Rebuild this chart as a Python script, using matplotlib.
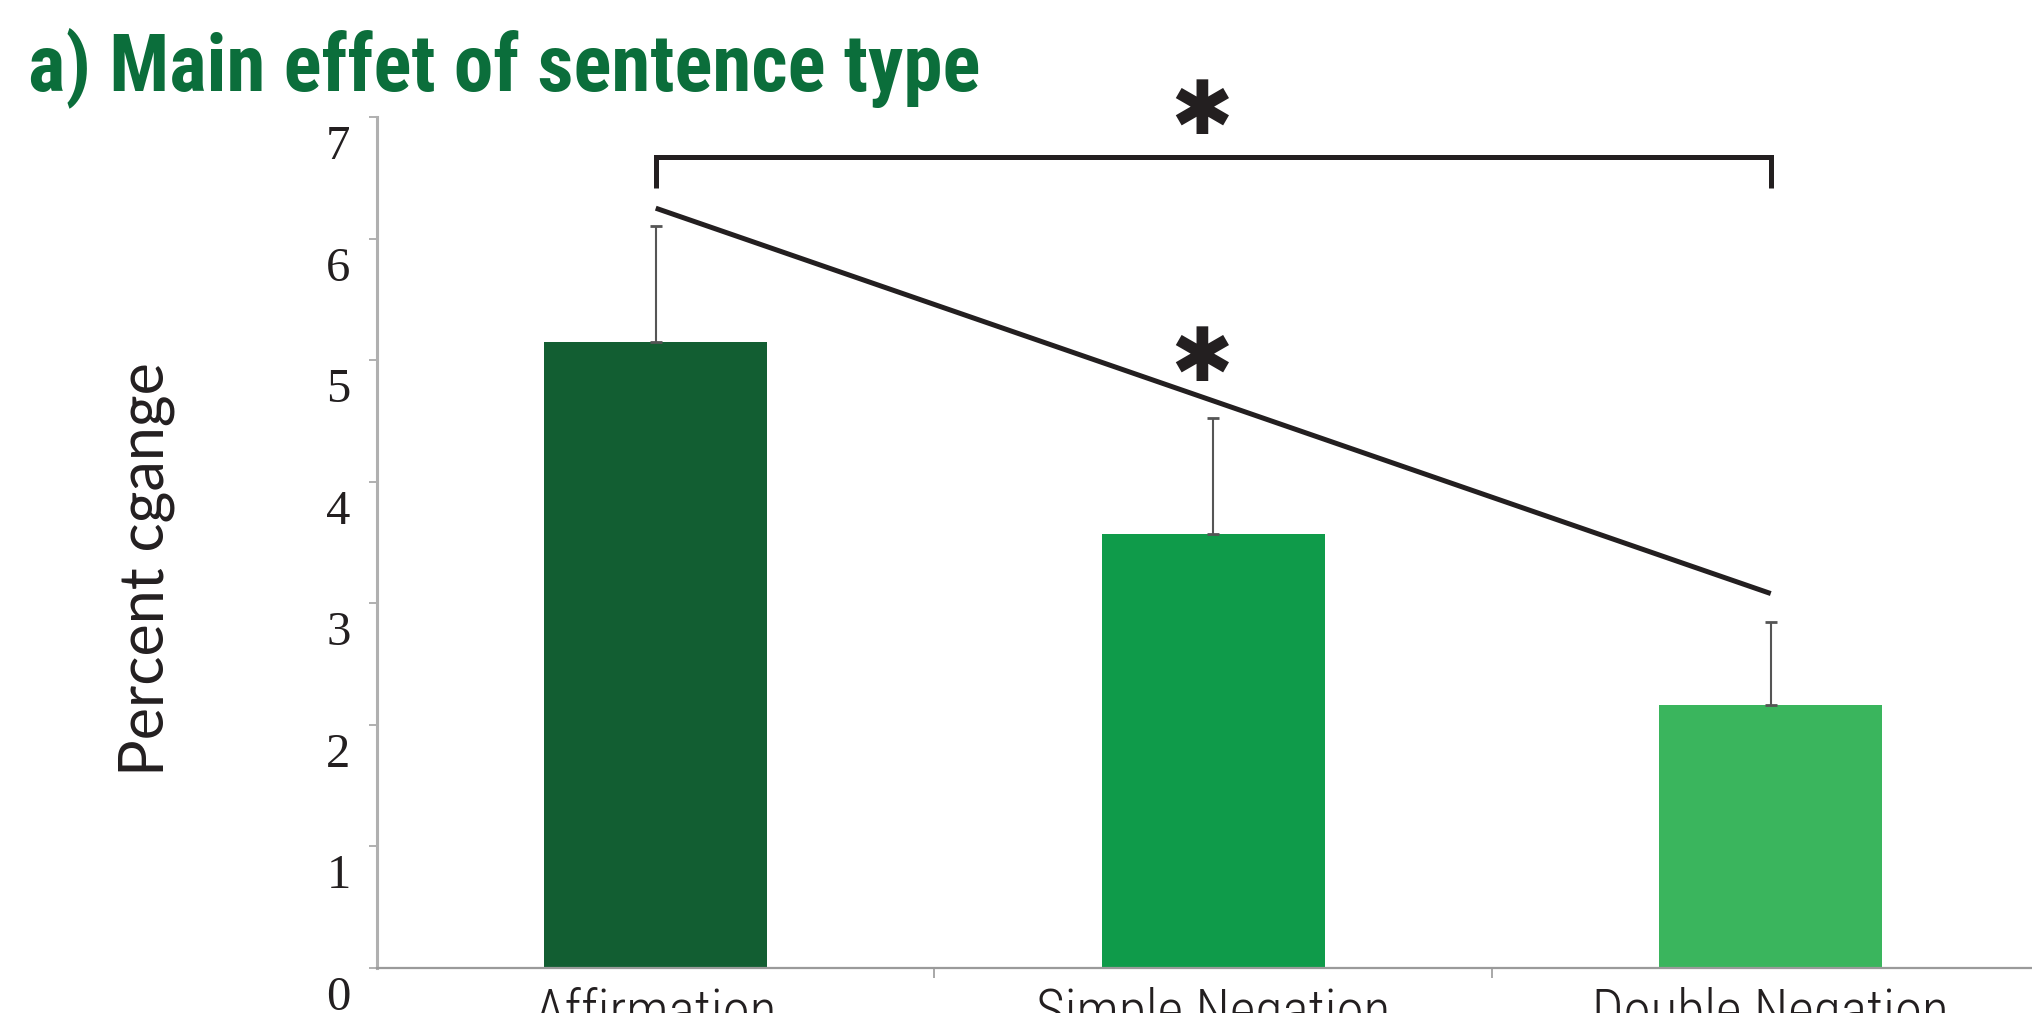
import matplotlib
matplotlib.use("Agg")
import matplotlib.pyplot as plt
from matplotlib.transforms import ScaledTranslation

# sentence types and mean percent change with upper error
categories = ["Affirmation", "Simple Negation", "Double Negation"]
means = [5.15, 3.57, 2.16]
errors = [0.95, 0.95, 0.69]
bar_colors = ["#125e32", "#0f9b4a", "#3ab55d"]

y_ticks = [0, 1, 2, 3, 4, 5, 6, 7]

# significance marks: bracket Affirmation vs Double Negation, trend line across types
bracket_x = [0, 2]
bracket_y = 6.67
bracket_drop = 6.42
trend_x = [0, 2]
trend_y = [6.25, 3.08]
star_x = [0.98, 0.98]
star_y = [7.03, 5.0]

INK = "#231f20"
AXIS_GREY = "#b0b0b0"
NARROW = ["Roboto Condensed", "Liberation Sans Narrow", "Lato", "DejaVu Sans"]

fig = plt.figure(figsize=(20.33, 10.13), dpi=100)
ax = fig.add_axes([377 / 2033, 45 / 1013, 1672.5 / 2033, 851 / 1013])

x = list(range(len(categories)))
ax.bar(x, means, width=0.4, color=bar_colors, zorder=2)
ax.errorbar(x, means, yerr=[[0] * len(errors), errors], fmt="none",
            ecolor="#555555", elinewidth=1.5, capsize=4, capthick=2, zorder=3)

ax.set_xlim(-0.5, 2.5)
ax.set_ylim(0, 7)

# bracket and trend line
ax.plot([bracket_x[0], bracket_x[0], bracket_x[1], bracket_x[1]],
        [bracket_drop, bracket_y, bracket_y, bracket_drop],
        color=INK, lw=3.6, solid_capstyle="butt", solid_joinstyle="miter",
        clip_on=False, zorder=4)
ax.plot(trend_x, trend_y, color=INK, lw=3.6, solid_capstyle="butt", zorder=4)
for sx, sy in zip(star_x, star_y):
    ax.text(sx, sy, "\u2731", ha="center", va="center", fontsize=54,
            family="DejaVu Sans", color=INK, clip_on=False, zorder=5)

# spines
for side in ["top", "right"]:
    ax.spines[side].set_visible(False)
ax.spines["left"].set_color(AXIS_GREY)
ax.spines["left"].set_linewidth(2.2)
ax.spines["bottom"].set_color("#9a9a9a")
ax.spines["bottom"].set_linewidth(1.6)

# y axis ticks, labels sit a little below their ticks
ax.set_yticks(y_ticks)
ax.set_yticklabels([str(t) for t in y_ticks])
ax.tick_params(axis="y", direction="out", length=6, width=1.4, color=AXIS_GREY,
               pad=13, labelsize=35, labelcolor=INK)
for lab in ax.get_yticklabels():
    lab.set_family(["Liberation Serif", "DejaVu Serif"])
    lab.set_transform(lab.get_transform() + ScaledTranslation(0, -0.25, fig.dpi_scale_trans))

# x axis: labels at bar centres, small ticks between categories
ax.set_xticks(x)
ax.set_xticklabels(categories)
ax.set_xticks([0.5, 1.5], minor=True)
ax.tick_params(axis="x", which="major", length=0, pad=13, labelsize=40, labelcolor=INK)
ax.tick_params(axis="x", which="minor", length=7, width=1.2, color="#9a9a9a")
for lab in ax.get_xticklabels():
    lab.set_family(NARROW)
    lab.set_fontweight("light")

ax.set_ylabel("Percent cgange", fontsize=44, color=INK, va="center",
              family=["Lato", "DejaVu Sans"])
ax.yaxis.set_label_coords(-0.1376, 0.469)

fig.text(28 / 2033, 1 - 90 / 1013, "a) Main effet of sentence type",
         ha="left", va="baseline", fontsize=57, fontweight="bold",
         color="#0b6e3b", family=NARROW)

fig.savefig("out.png", dpi=100)
